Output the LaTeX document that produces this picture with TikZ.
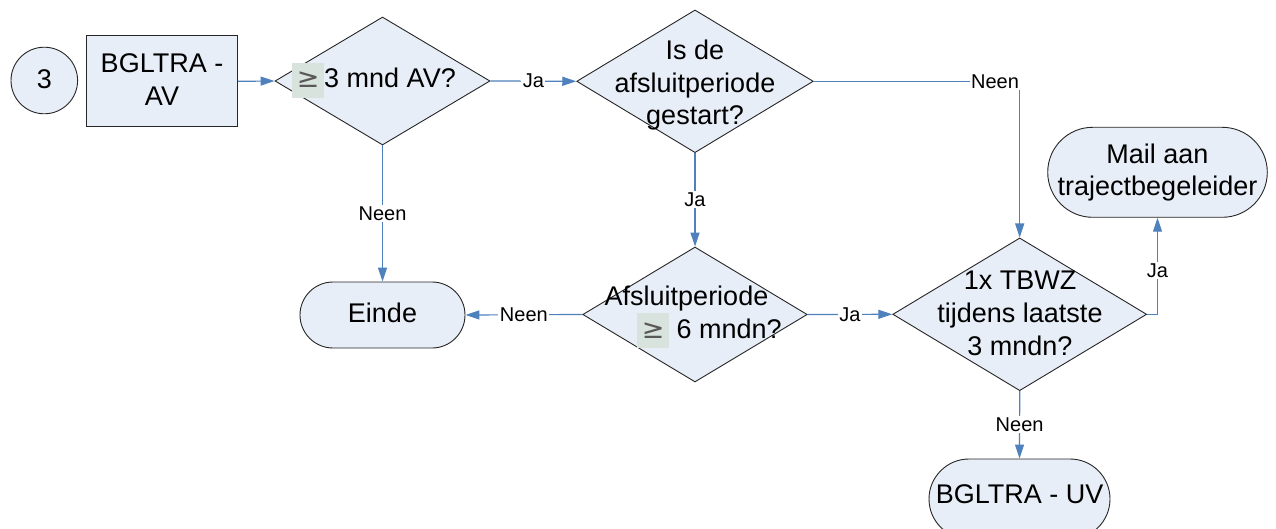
\documentclass[tikz,border=0pt]{standalone}
\usepackage{fontspec}
\setmainfont{Liberation Sans}
\newfontfamily\symfont{DejaVu Sans}
\usetikzlibrary{shapes.geometric,shapes.misc,arrows.meta}
\definecolor{shapefill}{HTML}{E8EEF7}
\definecolor{linkblue}{HTML}{4F81BD}
\definecolor{geqbg}{HTML}{D9E3DD}
\newcommand{\geqbox}{{\setlength{\fboxsep}{0pt}\colorbox{geqbg}{\makebox[32pt]{\rule[-10pt]{0pt}{35pt}{\symfont\color{black!65}≥}}}}}
\begin{document}
\begin{tikzpicture}[x=1pt,y=-1pt,
  every node/.style={font=\fontsize{27}{33}\selectfont},
  shapebox/.style={draw=black!85, line width=0.9pt, fill=shapefill, inner sep=0pt},
  dia/.style={shapebox, diamond},
  term/.style={shapebox, rounded rectangle},
  txt/.style={inner sep=0pt},
  lbl/.style={font=\fontsize{20}{24}\selectfont, fill=white, inner sep=1.5pt},
  link/.style={draw=linkblue, line width=1.2pt, -{Triangle[length=14pt,width=9pt]}}]
\path[use as bounding box, clip] (0,0) rectangle (1276,529);

% shapes
\node[shapebox, circle, minimum size=66.6pt] (start) at (44.3,80.5) {};
\node[shapebox, rectangle, minimum width=150.6pt, minimum height=90.7pt] (av) at (162,81.3) {};
\node[dia, minimum width=215pt, minimum height=128pt] (d1) at (382.5,81) {};
\node[dia, minimum width=236.6pt, minimum height=142.7pt] (d2) at (695,81.3) {};
\node[dia, minimum width=224.5pt, minimum height=135pt] (d3) at (695,314.5) {};
\node[dia, minimum width=254pt, minimum height=152.7pt] (d4) at (1019.7,314.3) {};
\node[term, minimum width=165pt, minimum height=66pt] (einde) at (382.5,315) {};
\node[term, minimum width=219.6pt, minimum height=90pt] (mail) at (1157.5,172.3) {};
\node[term, minimum width=181pt, minimum height=80pt] (uv) at (1019.5,499) {};

% texts
\node[txt, anchor=base] (startt) at (44.3,88.3) {3};
\node[txt, anchor=base] (avt1) at (162,72.7) {BGLTRA -};
\node[txt, anchor=base] (avt2) at (162,106) {AV};
\node[txt, anchor=base west] (d1t) at (292,88) {\geqbox3 mnd AV?};
\node[txt, anchor=base] (d2t1) at (695,60) {Is de};
\node[txt, anchor=base] (d2t2) at (695,92.5) {afsluitperiode};
\node[txt, anchor=base] (d2t3) at (695,125) {gestart?};
\node[txt, anchor=base] (d3t1) at (686.5,305) {Afsluitperiode};
\node[txt, anchor=base west] (d3t2) at (637,338.3) {\geqbox\ 6 mndn?};
\node[txt, anchor=base] (d4t1) at (1020,289.3) {1x TBWZ};
\node[txt, anchor=base] (d4t2) at (1020,322.3) {tijdens laatste};
\node[txt, anchor=base] (d4t3) at (1020,355) {3 mndn?};
\node[txt, anchor=base] (eindet) at (382.5,322.7) {Einde};
\node[txt, anchor=base] (mailt1) at (1157.5,163.3) {Mail aan};
\node[txt, anchor=base] (mailt2) at (1157.5,196) {trajectbegeleider};
\node[txt, anchor=base] (uvt) at (1019.5,503.3) {BGLTRA - UV};

% connectors
\draw[link] (av.east) -- (d1.west);
\draw[link] (d1.east) -- node[lbl] {Ja} (d2.west);
\draw[link] (d2.east) -| node[lbl, pos=0.44] {Neen} (d4.north);
\draw[link] (d1.south) -- node[lbl] {Neen} (einde.north);
\draw[link] (d2.south) -- node[lbl] {Ja} (d3.north);
\draw[link] (d3.west) -- node[lbl] {Neen} (einde.east);
\draw[link] (d3.east) -- node[lbl] {Ja} (d4.west);
\draw[link] (d4.east) -| node[lbl, pos=0.725] {Ja} (mail.south);
\draw[link] (d4.south) -- node[lbl] {Neen} (uv.north);
\end{tikzpicture}
\end{document}
